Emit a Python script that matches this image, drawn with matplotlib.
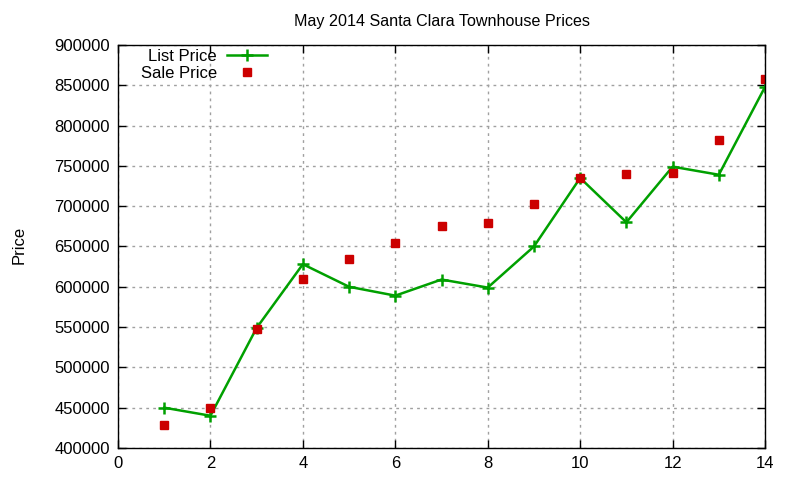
import matplotlib
matplotlib.use("Agg")
import matplotlib.pyplot as plt

# Dados
semanas = [1, 2, 3, 4, 5, 6, 7, 8, 9, 10, 11, 12, 13, 14]
preco_lista = [450000, 440000, 549000, 628000, 600000, 589000, 609000,
               599000, 650000, 735000, 680000, 749000, 739000, 848000]
preco_venda = [429000, 449000, 548000, 610000, 635000, 654000, 676000,
               679000, 703000, 735000, 740000, 741000, 782000, 858000]

plt.rcParams["font.family"] = ["Liberation Sans", "DejaVu Sans"]

fig = plt.figure(figsize=(8, 4.8), dpi=100)
ax = fig.add_axes([0.1475, 0.0667, 0.8088, 0.8396])

ax.plot(semanas, preco_lista, color="#00a000", linewidth=1.8, marker="+",
        markersize=9, markeredgewidth=1.8, label="List Price")
ax.plot(semanas, preco_venda, linestyle="none", marker="s", color="#cc0000",
        markersize=6, label="Sale Price")

ax.set_xlim(0, 14)
ax.set_ylim(400000, 900000)
ax.set_xticks(range(0, 15, 2))
ax.set_yticks(range(400000, 900001, 50000))
ax.ticklabel_format(style="plain", axis="y")

ax.grid(True, color="#a0a0a0", linestyle=(0, (2, 3)), linewidth=1)
ax.tick_params(direction="in", top=True, right=True, length=6, width=1,
               labelsize=12, pad=6)
for s in ax.spines.values():
    s.set_linewidth(1)

ax.set_title("May 2014 Santa Clara Townhouse Prices", fontsize=11.6, pad=14)
fig.text(0.015, 0.49, "Price", rotation=90, fontsize=12, va="center")

leg = ax.legend(loc="upper left", frameon=False, markerfirst=False,
                fontsize=12, handlelength=2.4, borderaxespad=0.0,
                labelspacing=0.1, bbox_to_anchor=(0.025, 1.006),
                handletextpad=0.6)
for t in leg.get_texts():
    t.set_ha("right")

fig.savefig("out.png", dpi=100)
